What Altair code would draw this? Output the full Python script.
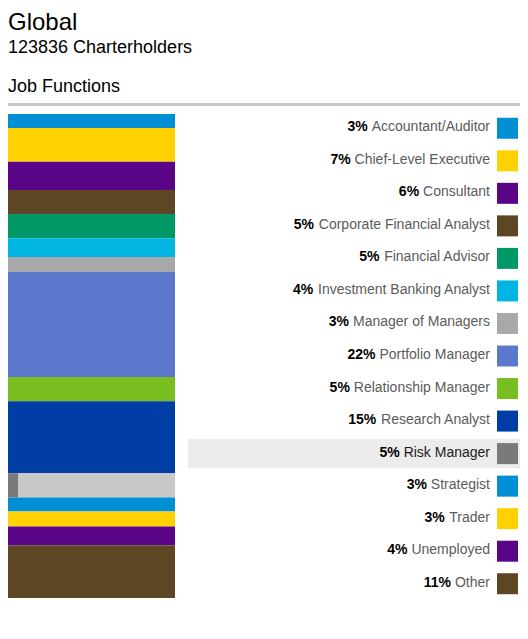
import altair as alt
import pandas as pd

# --- data ------------------------------------------------------------------
jobs = [
    "Accountant/Auditor", "Chief-Level Executive", "Consultant",
    "Corporate Financial Analyst", "Financial Advisor",
    "Investment Banking Analyst", "Manager of Managers", "Portfolio Manager",
    "Relationship Manager", "Research Analyst", "Risk Manager", "Strategist",
    "Trader", "Unemployed", "Other",
]
shares = [2.9, 7.0, 5.8, 5.0, 5.0, 3.9, 3.1, 21.7, 5.0, 14.9, 5.0, 2.9, 3.1, 3.9, 10.9]
colors = [
    "#008fd5", "#ffd100", "#5a0587", "#5c4623", "#009866",
    "#00b5e2", "#a7a8aa", "#5b78cc", "#78be20", "#003da5",
    "#7a7a7a", "#008fd5", "#ffd100", "#5a0587", "#5c4623",
]
highlight = "Risk Manager"

title_text = "Global"
subtitle_text = "123836 Charterholders"
section_text = "Job Functions"

# --- layout ----------------------------------------------------------------
FONT = "Liberation Sans"
TOTAL_W = 512
BAR_W = 167
GAP = 13
LIST_W = TOTAL_W - BAR_W - GAP
PANEL_H = 488
HEADER_H = 98
NAME_RIGHT = 302
SWATCH_X = 319.5

# Arial advance widths (per 1000 em) to place the bold percent before the name
ARIAL = {
    "A": 667, "B": 667, "C": 722, "D": 722, "E": 667, "F": 611, "G": 778,
    "H": 722, "I": 278, "J": 500, "K": 667, "L": 556, "M": 833, "N": 722,
    "O": 778, "P": 667, "Q": 778, "R": 722, "S": 667, "T": 611, "U": 722,
    "V": 667, "W": 944, "X": 667, "Y": 667, "Z": 611,
    "a": 556, "b": 556, "c": 500, "d": 556, "e": 556, "f": 278, "g": 556,
    "h": 556, "i": 222, "j": 222, "k": 500, "l": 222, "m": 833, "n": 556,
    "o": 556, "p": 556, "q": 556, "r": 333, "s": 500, "t": 278, "u": 556,
    "v": 500, "w": 722, "x": 500, "y": 500, "z": 500,
    " ": 278, "/": 278, "-": 333,
}


def text_width(s, size=14):
    return sum(ARIAL.get(ch, 556) for ch in s) * size / 1000


df = pd.DataFrame({"job": jobs, "share": shares, "color": colors})
df["pct"] = df["share"].round().astype(int).astype(str) + "%"
df["end"] = df["share"].cumsum()
df["start"] = df["end"] - df["share"]
df["bar_color"] = df["color"].where(df["job"] != highlight, "#c8c8c8")
df["name_color"] = ["#1a1a1a" if j == highlight else "#5b5b5b" for j in jobs]
df["pct_x"] = NAME_RIGHT - df["job"].map(text_width) - 4
hl = df[df["job"] == highlight]

# --- stacked column on the left --------------------------------------------
y_stack = alt.Scale(domain=[0, float(df["end"].max())], range=[2, 486], nice=False, zero=False)

bars = alt.Chart(df).mark_rect().encode(
    x=alt.value(0),
    x2=alt.value(BAR_W),
    y=alt.Y("start:Q", scale=y_stack, axis=None),
    y2="end:Q",
    color=alt.Color("bar_color:N", scale=None),
)
sliver = alt.Chart(hl).mark_rect(color="#7a7a7a").encode(
    x=alt.value(0),
    x2=alt.value(10),
    y=alt.Y("start:Q", scale=y_stack, axis=None),
    y2="end:Q",
)
column = (bars + sliver).properties(width=BAR_W, height=PANEL_H)

# --- list with percentages and swatches ------------------------------------
y_rows = alt.Y(
    "job:N", sort=jobs, axis=None,
    scale=alt.Scale(type="band", paddingInner=0.1, paddingOuter=0.05),
)

row_bg = alt.Chart(hl).mark_rect(color="#ececec").encode(
    x=alt.value(0), x2=alt.value(LIST_W), y=y_rows
)
names = alt.Chart(df).mark_text(
    align="right", baseline="middle", font=FONT, fontSize=14, dy=-1
).encode(
    x=alt.value(NAME_RIGHT),
    y=y_rows,
    text="job:N",
    color=alt.Color("name_color:N", scale=None),
)
pcts = alt.Chart(df).mark_text(
    align="right", baseline="middle", font=FONT, fontSize=14, fontWeight="bold",
    color="#000000", dy=-1
).encode(
    x=alt.X("pct_x:Q", scale=alt.Scale(domain=[0, LIST_W], nice=False), axis=None),
    y=y_rows,
    text="pct:N",
)
swatches = alt.Chart(df).mark_square(size=441, opacity=1).encode(
    x=alt.value(SWATCH_X),
    y=y_rows,
    color=alt.Color("color:N", scale=None),
)
listing = (row_bg + names + pcts + swatches).properties(width=LIST_W, height=PANEL_H)

# --- header ----------------------------------------------------------------
head_df = pd.DataFrame({
    "text": [title_text, subtitle_text, section_text],
    "size": [24, 18, 18],
    "line": [21.8, 44.5, 84],
})
head_text = alt.Chart(head_df).mark_text(
    align="left", baseline="alphabetic", font=FONT, color="#000000"
).encode(
    x=alt.value(0),
    y=alt.Y("line:Q", scale=alt.Scale(domain=[0, HEADER_H], range=[0, HEADER_H]), axis=None),
    text="text:N",
    size=alt.Size("size:Q", scale=None),
)
head_rule = alt.Chart(head_df).mark_rect(color="#c8c8c8").encode(
    x=alt.value(0), x2=alt.value(TOTAL_W), y=alt.value(95), y2=alt.value(98)
)
header = (head_text + head_rule).properties(width=TOTAL_W, height=HEADER_H)

chart = (
    alt.vconcat(header, alt.hconcat(column, listing, spacing=GAP), spacing=6)
    .properties(padding=0)
    .configure_view(strokeWidth=0)
)

chart.save("out.html", embed_options={"renderer": "svg", "actions": False})
